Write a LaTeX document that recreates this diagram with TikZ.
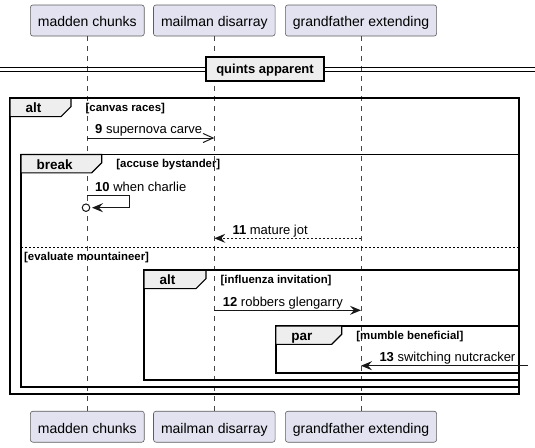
\documentclass[tikz,border=0pt]{standalone}
\usepackage{fontspec}
\setmainfont{Liberation Sans}
\usetikzlibrary{arrows.meta}
\definecolor{pfill}{HTML}{E2E2F0}
\definecolor{pline}{HTML}{181818}
\definecolor{tabfill}{HTML}{EEEEEE}
\newcommand{\participant}[3]{\node[pbox] (#1top) at (#2,20.5) {#3}; \node[pbox] (#1bot) at (#2,426.7) {#3}; \draw[lifeline] (#1top) -- (#1bot);}
\newcommand{\fragment}[8]{\draw[frame] (#2,#3) rectangle (#4,#5);
  \draw[tab] (#2,#3) -- (#6,#3) -- (#6,#3+8.3) -- (#6-10,#3+18.3) -- (#2,#3+18.3) -- cycle;
  \node[tablabel] (#1) at (#2+15.5,#3+14.5) {#7}; \node[guard] (#1g) at (#6+14.5,#3+13) {#8};}
\newcommand{\seqmsg}[7]{\coordinate (m#1s) at (#2 |- 0,#4); \coordinate (m#1e) at (#3 |- 0,#4);
  \draw[msg,#5] (m#1s) -- (m#1e); \node[msglabel] (l#1) at (#6,#4-4.3) {\textbf{#1} #7};}

\begin{document}
\begin{tikzpicture}[x=1pt,y=-1pt,
  pbox/.style={draw=pline!70,line width=0.6pt,fill=pfill,rounded corners=2.5pt,minimum height=31pt,inner xsep=7.5pt,text height=13pt,text depth=0pt,font=\fontsize{14}{16}\selectfont},
  lifeline/.style={draw=pline!80,line width=0.6pt,dash pattern=on 5pt off 5pt},
  frame/.style={draw=black,line width=1.7pt},
  tab/.style={draw=black,line width=1.1pt,fill=tabfill},
  tablabel/.style={anchor=base west,inner sep=0pt,font=\fontsize{13.5}{15}\bfseries},
  guard/.style={anchor=base west,inner sep=0pt,font=\fontsize{11.4}{13}\bfseries},
  msglabel/.style={anchor=base west,inner sep=0pt,font=\fontsize{13}{15}\selectfont},
  msg/.style={draw=pline,line width=1pt},
  full/.style={-{Stealth[length=11pt,width=9pt,inset=4pt]}},
  open/.style={-{Straight Barb[length=10pt,width=9pt]}},
  reply/.style={full,dash pattern=on 2pt off 2pt},
  divbox/.style={draw=black,line width=2pt,fill=tabfill,minimum height=24.3pt,inner xsep=10pt,text height=10pt,text depth=0pt,font=\fontsize{13}{15}\bfseries}]
    \useasboundingbox (0,0) rectangle (535,447);
    \participant{mad}{87.3}{madden chunks}
    \participant{mail}{214.3}{mailman disarray}
    \participant{gra}{361}{grandfather extending}

    % divider
    \draw[draw=black,line width=1pt] (0,67.7) -- (535,67.7) (0,71) -- (535,71);
    \node[divbox] (div) at (265,68.85) {quints apparent};

    \fragment{alta}{10}{98.3}{519.3}{394}{71}{alt}{[canvas races]}
    \seqmsg{9}{madtop}{mailtop}{138}{open}{95}{supernova carve}

    \fragment{brk}{21}{154.5}{519}{387.3}{101.7}{break}{[accuse bystander]}
    % self message
    \coordinate (m10s) at (madtop |- 0,195.7); \coordinate (m10e) at (92,207.7);
    \node[circle,draw=pline,line width=1pt,fill=white,minimum size=7.5pt,inner sep=0pt] (c10) at (86,207.7) {};
    \draw[msg,full] (m10s) -- ++(42,0) |- (m10e);
    \node[msglabel] (l10) at (95,191.4) {\textbf{10} when charlie};
    \seqmsg{11}{gratop}{mailtop}{238.3}{reply}{232.3}{mature jot}
    \draw[draw=black,line width=1pt,dash pattern=on 2pt off 2pt] (21,247.3) -- (519,247.3);
    \node[guard] (brkelse) at (24,260.3) {[evaluate mountaineer]};

    \fragment{altb}{144}{270.3}{519}{379.7}{206}{alt}{[influenza invitation]}
    \seqmsg{12}{mailtop}{gratop}{310.3}{full}{222.7}{robbers glengarry}

    \fragment{par}{275.7}{326}{519}{373}{341.7}{par}{[mumble beneficial]}
    \coordinate (m13s) at (528,365.7); \coordinate (m13e) at (gratop |- 0,365.7);
    \draw[msg,full] (m13s) -- (m13e);
    \node[msglabel] (l13) at (379.3,361.4) {\textbf{13} switching nutcracker};
\end{tikzpicture}
\end{document}
